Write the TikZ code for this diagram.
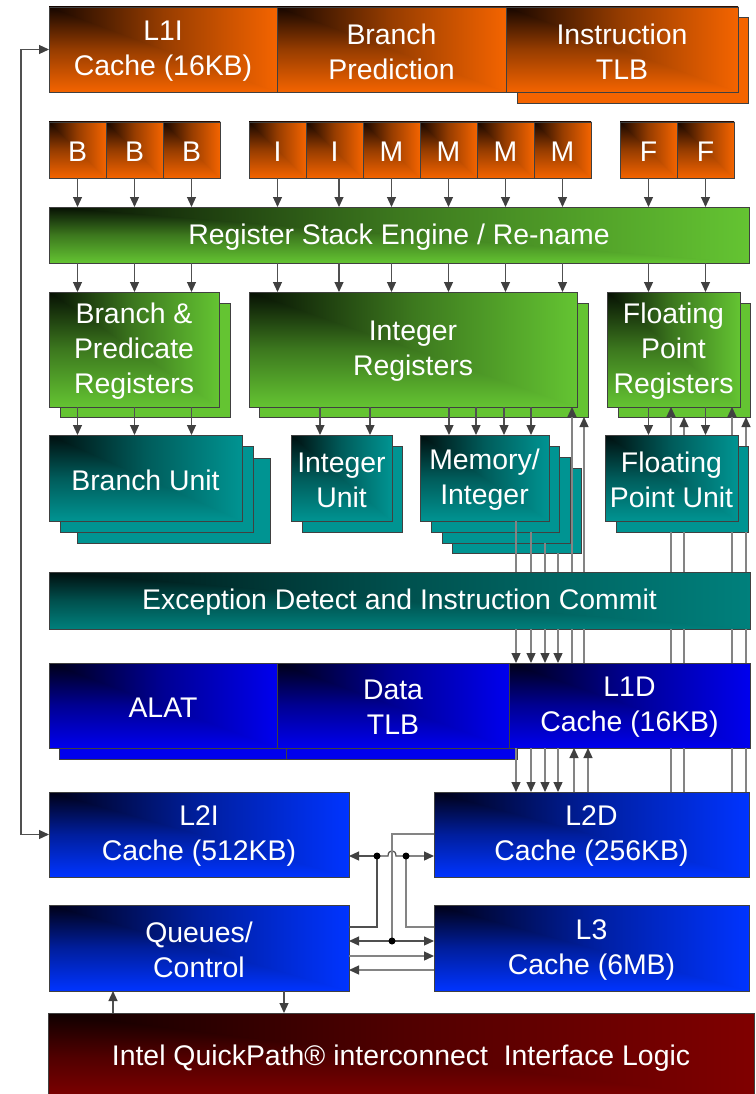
\documentclass[tikz,border=0pt]{standalone}
\usepackage{fontspec}
\setmainfont{Liberation Sans}
\usetikzlibrary{arrows.meta}
\definecolor{orB}{RGB}{244,100,0}\definecolor{orD}{RGB}{22,6,0}
\definecolor{grB}{RGB}{100,196,50}\definecolor{grD}{RGB}{6,16,3}
\definecolor{tlB}{RGB}{0,148,146}\definecolor{tlD}{RGB}{0,14,14}
\definecolor{exB}{RGB}{0,128,124}\definecolor{exD}{RGB}{0,14,14}
\definecolor{buB}{RGB}{0,0,238}\definecolor{buD}{RGB}{0,0,22}
\definecolor{bvB}{RGB}{0,52,255}\definecolor{bvD}{RGB}{0,0,22}
\definecolor{rdB}{RGB}{128,0,0}\definecolor{rdD}{RGB}{14,0,0}
\colorlet{orM}{orB!58!orD}\colorlet{grM}{grB!58!grD}\colorlet{tlM}{tlB!58!tlD}
\colorlet{exM}{exB!58!exD}\colorlet{buM}{buB!58!buD}\colorlet{bvM}{bvB!58!bvD}
\colorlet{rdM}{rdB!58!rdD}
\definecolor{edge}{RGB}{64,64,64}
\definecolor{lnD}{RGB}{80,80,80}
\definecolor{lnL}{RGB}{132,132,132}
\definecolor{tipc}{RGB}{64,64,64}
\newcommand\gbox[7]{%
  \shade[top color=#6D, bottom color=#6B, middle color=#6M] (#2,#3) rectangle (#4,#5);
  \shade[left color=#6D, right color=#6B, middle color=#6M] (#2,#3) -- (#4,#3) -- (#4,#5) -- cycle;
  \node[bx, minimum width=#4pt-#2pt, minimum height=#5pt-#3pt] (#1) at ({(#2+#4)/2},{(#3+#5)/2}) {};
  \node[txt] (#1t) at ([yshift=-2pt]#1.center) {#7};}
\newcommand\shbox[6]{%
  \node[shb, fill=#6B, minimum width=#4pt-#2pt, minimum height=#5pt-#3pt] (#1) at ({(#2+#4)/2},{(#3+#5)/2}) {};}
\tikzset{
  bx/.style={draw=edge, line width=0.9pt, inner sep=0pt, outer sep=0pt},
  txt/.style={inner sep=0pt, text=white, align=center, font=\fontsize{28.4}{35}\selectfont},
  shb/.style={draw=edge, line width=0.9pt, inner sep=0pt, outer sep=0pt},
  tp/.tip={Triangle[length=10pt,width=9pt,color=tipc]},
  arr/.style={draw=lnD, line width=1.2pt, -tp},
  ln/.style={draw=lnL, line width=1.3pt},
  lnarr/.style={draw=lnL, line width=1.3pt, -tp},
  lnd/.style={draw=lnD, line width=1.2pt},
  lnl/.style={draw=lnL, line width=1.3pt},
  arrd/.style={draw=lnD, line width=1.2pt, -tp},
  arrl/.style={draw=lnL, line width=1.3pt, -tp},
  lp/.style={draw=lnD, line width=1.2pt, tp-tp},
}
\begin{document}
\begin{tikzpicture}[x=1pt,y=-1pt]
\fill[white] (0,0) rectangle (755,1094);
\useasboundingbox (0,0) rectangle (755,1094);
% row 1
\shbox{itlbS}{517}{17}{748}{103}{or}
\gbox{l1i}{49}{7}{277}{92}{or}{L1I\\Cache (16KB)}
\gbox{bp}{277}{7}{506}{92}{or}{Branch\\Prediction}
\gbox{itlb}{506}{7}{738}{92}{or}{Instruction\\TLB}
% row 2
\gbox{b1}{49}{122}{106}{178}{or}{B}
\gbox{b2}{106}{122}{163}{178}{or}{B}
\gbox{b3}{163}{122}{220}{178}{or}{B}
\gbox{i1}{249}{122}{306}{178}{or}{I}
\gbox{i2}{306}{122}{363}{178}{or}{I}
\gbox{m1}{363}{122}{420}{178}{or}{M}
\gbox{m2}{420}{122}{477}{178}{or}{M}
\gbox{m3}{477}{122}{534}{178}{or}{M}
\gbox{m4}{534}{122}{591}{178}{or}{M}
\gbox{f1}{620}{122}{677}{178}{or}{F}
\gbox{f2}{677}{122}{734}{178}{or}{F}
% RSE
\gbox{rse}{49}{207}{749}{263}{gr}{Register Stack Engine / Re-name}
% registers
\shbox{bprS}{60}{303}{230}{417}{gr}
\gbox{bpr}{49}{292}{219}{407}{gr}{Branch \&\\Predicate\\Registers}
\shbox{irS}{259}{303}{588}{417}{gr}
\gbox{ir}{249}{292}{577}{407}{gr}{Integer\\Registers}
\shbox{fprS}{618}{303}{750}{417}{gr}
\gbox{fpr}{607}{292}{740}{407}{gr}{Floating\\Point\\Registers}
% units
\shbox{buS2}{77}{458}{270}{543}{tl}
\shbox{buS1}{60}{446}{253}{532}{tl}
\gbox{bu}{49}{435}{242}{521}{tl}{Branch Unit}
\shbox{iuS}{302}{446}{402}{532}{tl}
\gbox{iu}{291}{435}{392}{521}{tl}{Integer\\Unit}
\shbox{miS3}{452}{468}{581}{553}{tl}
\shbox{miS2}{442}{457}{570}{543}{tl}
\shbox{miS1}{431}{446}{559}{532}{tl}
\gbox{mi}{420}{435}{549}{521}{tl}{Memory/\\Integer}
\shbox{fpuS}{616}{446}{748}{532}{tl}
\gbox{fpu}{605}{435}{738}{521}{tl}{Floating\\Point Unit}
% exception
\gbox{exc}{49}{572}{750}{629}{ex}{Exception Detect and Instruction Commit}
% L1 data
\shbox{dtlbS}{286}{674}{517}{759}{bu}
\shbox{alatS}{59}{674}{286}{759}{bu}
\gbox{alat}{49}{663}{277}{748}{bu}{ALAT}
\gbox{dtlb}{277}{663}{509}{748}{bu}{Data\\TLB}
\gbox{l1d}{509}{663}{750}{748}{bu}{L1D\\Cache (16KB)}
% L2/L3
\gbox{l2i}{49}{792}{349}{877}{bv}{L2I\\Cache (512KB)}
\gbox{l2d}{434}{792}{749}{877}{bv}{L2D\\Cache (256KB)}
\gbox{qc}{49}{905}{349}{991}{bv}{Queues/\\Control}
\gbox{l3}{434}{905}{749}{991}{bv}{L3\\Cache (6MB)}
% QPI
\gbox{qpi}{48}{1013}{754}{1100}{rd}{Intel QuickPath\textregistered{} interconnect\ \ Interface Logic}
% column coordinates
\coordinate (cI2) at (339,0);
\coordinate (cIU1) at (320,0);\coordinate (cIU2) at (370,0);
\coordinate (cM1) at (449,0);\coordinate (cM2) at (476,0);\coordinate (cM3) at (504,0);\coordinate (cM4) at (531,0);
\coordinate (cD1) at (516,0);\coordinate (cD2) at (531,0);\coordinate (cD3) at (545,0);\coordinate (cD4) at (558,0);
\coordinate (cU1) at (572,0);\coordinate (cU2) at (584,0);\coordinate (cU3) at (574,0);\coordinate (cU4) at (588,0);
\coordinate (cF1) at (671,0);\coordinate (cF2) at (684,0);\coordinate (cF3) at (732,0);\coordinate (cF4) at (746,0);
\coordinate (cQ1) at (113,0);\coordinate (cQ2) at (284,0);
\coordinate (dA) at (377,856);\coordinate (dB) at (406,856);\coordinate (dC) at (392,941);
\coordinate (yQ) at (0,927);\coordinate (yL) at (0,834);\coordinate (yS) at (0,956);\coordinate (yT) at (0,970);
% small boxes -> RSE
\foreach \n in {b1,b2,b3,i1,m1,m2,m3,m4,f1,f2} \draw[arr] (\n.south) -- (\n.south |- rse.north);
\draw[arr] (i2.south -| cI2) -- (rse.north -| cI2);
% RSE -> registers
\foreach \n/\t in {b1/bpr,b2/bpr,b3/bpr,i1/ir,m1/ir,m2/ir,m3/ir,m4/ir,f1/fpr,f2/fpr}
  \draw[arr] (rse.south -| \n) -- (\t.north -| \n);
\draw[arr] (rse.south -| cI2) -- (ir.north -| cI2);
% registers -> units
\foreach \n in {b1,b2,b3} \draw[arr] (bpr.south -| \n) -- (bu.north -| \n);
\foreach \n in {cIU1,cIU2} \draw[arr] (ir.south -| \n) -- (iu.north -| \n);
\foreach \n in {cM1,cM2,cM3,cM4} \draw[arr] (ir.south -| \n) -- (mi.north -| \n);
\foreach \n in {f1,f2} \draw[arr] (fpr.south -| \n) -- (fpu.north -| \n);
% memory -> L1D
\foreach \s/\c in {mi/cD1,miS1/cD2,miS2/cD3,miS3/cD4}{
  \draw[ln] (\s.south -| \c) -- (exc.north -| \c);
  \draw[lnarr] (exc.south -| \c) -- (l1d.north -| \c);
  \draw[lnarr] (l1d.south -| \c) -- (l2d.north -| \c);}
% L1D -> integer registers
\draw[ln] (l1d.north -| cU1) -- (exc.south -| cU1);
\draw[lnarr] (exc.north -| cU1) -- (ir.south -| cU1);
\draw[ln] (l1d.north -| cU2) -- (exc.south -| cU2);
\draw[lnarr] (exc.north -| cU2) -- (irS.south -| cU2);
% L2D -> L1D
\draw[lnarr] (l2d.north -| cU3) -- (l1d.south -| cU3);
\draw[lnarr] (l2d.north -| cU4) -- (l1d.south -| cU4);
% L2D -> FP registers
\foreach \c in {cF1,cF2,cF3,cF4}{
  \draw[ln] (l2d.north -| \c) -- (l1d.south -| \c);
  \draw[ln] (l1d.north -| \c) -- (exc.south -| \c);
  \draw[ln] (exc.north -| \c) -- (fpuS.south -| \c);}
\draw[lnarr] (fpu.north -| cF1) -- (fpr.south -| cF1);
\draw[lnarr] (fpu.north -| cF2) -- (fprS.south -| cF2);
\draw[lnarr] (fpu.north -| cF3) -- (fpr.south -| cF3);
\draw[lnarr] (fpuS.north -| cF4) -- (fprS.south -| cF4);
% L2 / L3 interconnect
\draw[lnd] (qc.east |- yQ) -- (yQ -| dA) -- (dA);
\draw[arrd] (dA) -- (dA -| l2i.east);
\draw[lnd] (dA) -- (388,856) .. controls (388,849) and (396,849) .. (396,856) -- (dB);
\draw[lnl] (l3.west |- yQ) -- (yQ -| dB) -- (dB);
\draw[arrl] (dB) -- (dB -| l2d.west);
\draw[lnl] (l2d.west |- yL) -- (yL -| dC) -- (dC);
\draw[arrd] (dC) -- (dC -| qc.east);
\draw[arrd] (dC) -- (dC -| l3.west);
\draw[arrl] (qc.east |- yS) -- (l3.west |- yS);
\draw[arrl] (l3.west |- yT) -- (qc.east |- yT);
\foreach \d in {dA,dB,dC} \fill[black] (\d) circle (3.5);
% queues <-> QPI
\draw[arr] (qpi.north -| cQ1) -- (qc.south -| cQ1);
\draw[arr] (qc.south -| cQ2) -- (qpi.north -| cQ2);
% loop from L2I to L1I
\draw[lp] (l2i.west) -- ++(-28,0) |- (l1i.west);
\end{tikzpicture}
\end{document}
